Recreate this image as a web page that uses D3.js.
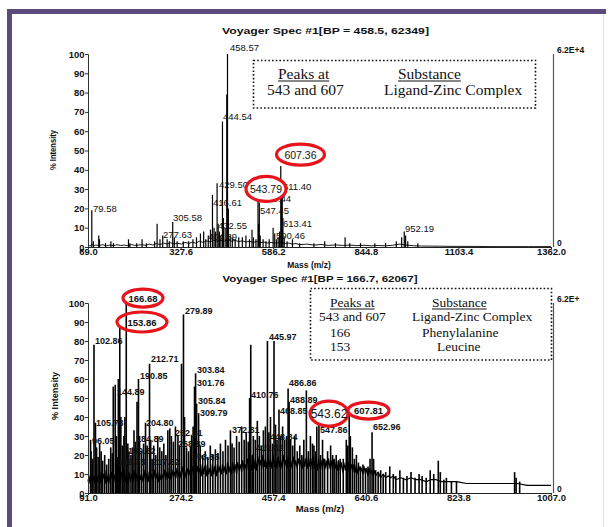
<!DOCTYPE html>
<html><head><meta charset="utf-8">
<script src="https://cdn.jsdelivr.net/npm/d3@7"></script>
<style>body{margin:0;background:#fff;} svg{display:block;}</style>
</head><body>
<script>
// ---------------- DATA ----------------
const topTitle = "Voyager Spec #1[BP = 458.5, 62349]";
const botTitle = "Voyager Spec #1[BP = 166.7, 62067]";
const topXTicks = [69.0, 327.6, 586.2, 844.8, 1103.4, 1362.0];
const botXTicks = [91.0, 274.2, 457.4, 640.6, 823.8, 1007.0];
const yTicks = [0, 10, 20, 30, 40, 50, 60, 70, 80, 90, 100];
const topScaleLabel = "6.2E+4";
const botScaleLabel = "6.2E+";
const xAxisTitle = "Mass (m/z)";
const yAxisTitle = "% Intensity";

// top spectrum: peaks [m/z, % intensity]
const topPeaks = [
[79.58,19],[84,3],[99,6],[101,4],[118,2],[133,3],[140,2],[182,4],[186,2],[205,2],[220,4],[232,2],[255,3],[262,12],[270,4],[277.63,6],[290,4],[296,3],[305.58,13],[310,5],[318,3],[335,3],[350,3],[362,4],[372,5],[383,7],[392,8],[398,4],[404.89,6],[411,9],[416.61,27],[421,10],[425,8],[429.5,33],[432.55,12],[436,8],[440,6],[444.54,65],[447,15],[452,10],[456.5,79],[458.57,100],[461,20],[466,6],[472,5],[480,4],[490,5],[500,5],[510,6],[520,4],[527,9],[531,5],[538,4],[543.79,24],[545.44,12],[547.45,23],[550,6],[558,4],[566,3],[575,4],[586,10],[590.46,7],[595,4],[600,5],[604,8],[607.36,42],[609.5,33],[611.4,28],[613.41,15],[617,5],[625,3],[640,4],[660,2],[700,2],[730,3],[760,2],[787,5],[800,2],[830,2],[870,2],[900,2],[930,3],[945,5],[952.19,8],[956,6],[962,3],[990,2]
];
// top spectrum: baseline trace [m/z, %]
const topNoise = [
[69,1],[75,0.5],[80,1.5],[85,0.5],[90,1],[100,0.8],[110,1.2],[120,0.6],[130,1],[140,0.7],[150,1.2],[160,0.8],[170,1],[180,0.7],[190,1.3],[200,0.8],[210,1],[220,1.2],[230,0.8],[240,1.5],[250,1],[260,1.8],[270,1.2],[280,2],[290,1.5],[300,2.2],[310,1.6],[320,2],[330,1.5],[340,2.4],[350,1.8],[360,2.5],[370,2],[380,3],[390,2.4],[400,3.2],[410,2.6],[420,3.5],[430,3],[440,3.5],[450,3],[460,3.8],[470,3],[480,3.4],[490,2.8],[500,3.2],[510,2.6],[520,3],[530,2.4],[540,2.8],[550,2.2],[560,2.6],[570,2],[580,2.4],[590,2],[600,2.2],[610,2.5],[620,1.8],[630,2],[640,1.5],[650,1.8],[660,1.2],[680,1.5],[700,1],[720,1.3],[740,0.8],[760,1.1],[780,0.8],[800,1],[820,0.7],[840,0.9],[860,0.6],[880,0.8],[900,0.6],[920,0.9],[940,1.5],[960,1],[980,0.6],[1000,0.5],[1050,0.4],[1100,0.3],[1150,0.3],[1200,0.2],[1300,0.2],[1362,0.2]
];
// bottom spectrum: peaks [m/z, % intensity]
const botPeaks = [
[96.05,28],[97,22],[100,18],[102.86,78],[105.78,37],[108,24],[111,19],[114,26],[117,22],[120,17],[124,20],[128,15],[132,18],[136,24],[139,21],[141,56],[144.89,57],[147,30],[149.78,19],[151,60],[153.86,88],[156,40],[159,25],[162,30],[164,40],[166.68,100],[169.82,26],[172,22],[176,20],[179,24],[182,33],[184.89,27],[188,48],[190.85,60],[193,30],[197,22],[201,26],[204.80,37],[208,25],[212.71,68],[215,28],[217.82,18],[221,25],[225,20],[229,30],[233,24],[237,22],[241,26],[245,20],[249,33],[252.81,34],[256,30],[260,27],[264,35],[268.89,30],[272,25],[276,68],[279.89,94],[282,40],[286,24],[290,22],[293.85,25],[296,30],[299,35],[301.76,56],[303.84,63],[305.84,47],[309.79,42],[313,25],[318,20],[323,22],[328,19],[333,25],[338,20],[343,23],[348,21],[353,26],[358,22],[363,28],[368,25],[372.81,33],[376,26],[380,24],[385,30],[390,27],[395,35],[400,28],[404,32],[408,27],[410.76,50],[413,78],[415.82,20],[418,30],[422,28],[426,38],[430,30],[434,25],[438,33],[442,35],[445.97,80],[448.84,32],[452,40],[456,26],[459,80],[462,36],[465,28],[468.85,44],[472,30],[476,35],[480,28],[484,30],[486.86,55],[488.89,48],[492,28],[496,25],[500,30],[505,22],[510,25],[514,20],[518,28],[523,54],[527,22],[531,30],[535,26],[538,25],[541,22],[543.62,35],[547.86,38],[551,20],[555,28],[559,18],[565,22],[571,25],[575,20],[578,18],[582,20],[586,17],[590,18],[596,18],[602,28],[605,25],[607.81,44],[610,30],[614,24],[618,18],[622,20],[626,16],[630,14],[635,15],[640,13],[645,14],[649,18],[652.96,32],[656,18],[660,12],[665,11],[670,12],[675,10],[680,11],[688,14],[695,10],[700,9],[708,12],[715,8],[722,9],[730,11],[738,8],[746,10],[752,9],[760,8],[768,12],[775,10],[784,17],[788,11],[795,7],[800,8],[810,6],[820,6],[935,11],[938,8],[945,6]
];
// bottom spectrum: noisy baseline trace [m/z, %]
const botNoise = [
[91,6],[93,9],[95,5],[98,10],[100,5],[103,9],[105,5],[107,11],[110,6],[112,9],[115,5],[117,11],[119,6],[122,10],[125,5],[127,12],[130,6],[132,10],[135,5],[137,11],[140,6],[142,10],[145,6],[147,12],[150,5],[152,10],[155,5],[157,11],[160,6],[162,13],[165,6],[167,10],[170,5],[172,11],[175,6],[177,10],[180,6],[182,12],[185,6],[187,10],[190,6],[192,11],[195,7],[197,10],[200,6],[202,12],[205,6],[207,10],[210,6],[212,11],[215,6],[217,10],[220,6],[222,12],[225,7],[227,10],[230,6],[232,11],[235,7],[237,10],[240,7],[242,12],[245,7],[247,11],[250,8],[252,13],[255,7],[257,12],[260,8],[262,11],[265,8],[267,13],[270,9],[272,12],[275,8],[277,14],[280,9],[282,12],[285,8],[287,13],[290,9],[292,12],[295,8],[297,14],[300,10],[302,13],[305,9],[307,14],[310,10],[312,13],[315,9],[317,15],[320,10],[322,14],[325,9],[327,15],[330,10],[332,13],[335,9],[337,15],[340,10],[342,14],[345,9],[347,15],[350,11],[352,14],[355,10],[357,15],[360,11],[362,14],[365,10],[367,16],[370,11],[372,14],[375,10],[377,16],[380,11],[382,15],[385,10],[387,16],[390,12],[392,15],[395,11],[397,17],[400,12],[402,15],[405,12],[407,18],[410,13],[412,17],[415,12],[417,20],[420,13],[422,18],[425,12],[427,19],[430,14],[432,17],[435,13],[437,20],[440,14],[442,18],[445,13],[447,19],[450,14],[452,18],[455,13],[457,20],[460,14],[462,18],[465,13],[467,19],[470,14],[472,18],[475,13],[477,20],[480,14],[482,17],[485,13],[487,19],[490,14],[492,17],[495,13],[497,19],[500,14],[502,17],[505,13],[507,18],[510,14],[512,17],[515,13],[517,19],[520,14],[522,18],[525,13],[527,19],[530,14],[532,18],[535,12],[537,19],[540,13],[542,17],[545,12],[547,18],[550,13],[552,17],[555,12],[557,18],[560,13],[562,17],[565,12],[567,18],[570,13],[572,17],[575,12],[577,17],[580,13],[582,16],[585,12],[587,17],[590,12],[592,16],[595,11],[597,16],[600,12],[602,16],[605,11],[607,16],[610,12],[612,15],[615,11],[617,15],[620,11],[622,15],[625,10],[627,14],[630,11],[632,13],[635,10],[637,14],[640,10],[642,13],[645,9],[647,13],[650,10],[652,12],[655,9],[657,12],[660,9],[665,11],[670,8],[675,10],[680,8],[685,9],[690,8],[695,9],[700,7],[710,8],[720,7],[730,8],[740,7],[750,7],[760,6],[770,7],[780,7],[790,6],[800,6],[820,6],[840,5],[860,5],[880,5],[900,5],[920,5],[940,5],[960,4],[980,4],[1000,4],[1007,4]
];

// peak labels: [text, m/z of label's left edge, % at label's middle]
const topLabels = [
["458.57",465.6,103.6],["444.54",446,67.4],["79.58",83,19.7],["305.58",306.4,15.5],["277.63",278.4,6.7],
["429.50",434.8,32.6],["416.61",418.1,22.8],["432.55",432,10.9],["404.89",404.1,5.2],["545.44",554.9,24.9],
["547.45",549.3,18.7],["611.40",613.6,31.1],["613.41",613.6,12.4],["590.46",594,6.2],["952.19",954.3,9.8]
];
// circled labels: [text, m/z of centre, % of centre]
const topCircled = [["543.79",566.1,30.1],["607.36",662.4,47.9]];
const botLabels = [
["102.86",104.8,80],["279.89",282.9,95.8],["212.71",215.6,70.5],["190.85",193.9,61.6],["144.89",148.4,53.2],
["303.84",306.6,64.7],["301.76",306.6,57.9],["305.84",308.6,48.4],["309.79",312.6,42.1],["204.80",205.7,36.8],
["105.78",106.8,36.8],["96.05",98.9,27.4],["184.89",186,28.4],["169.82",170.1,22.1],["149.78",150.4,16.3],
["217.82",217.6,16.3],["252.81",263.1,31.6],["268.89",269,25.8],["293.85",296.8,18.9],["372.81",375.9,33.2],
["415.82",423.4,23.7],["448.84",451.1,29.5],["410.76",413.5,51.6],["445.97",449.1,82.1],["486.86",488.7,57.9],
["488.89",490.6,48.9],["468.85",470.9,43.2],["547.86",550,33.2],["652.96",654.8,34.7]
];
const botCircled = [["166.68",199.8,102.6],["153.86",197.8,90],["543.62",567.8,41.8],["607.81",645.9,43.4]];

const legendTop = [["Peaks at","Substance"],["543 and 607","Ligand-Zinc Complex"]];
const legendBot = [["Peaks at","Substance"],["543 and 607","Ligand-Zinc Complex"],["166","Phenylalanine"],["153","Leucine"]];

// ---------------- DRAWING ----------------
const W = 608, H = 527;
const svg = d3.select("body").append("svg").attr("width", W).attr("height", H);
svg.append("rect").attr("width", W).attr("height", H).attr("fill", "#fff");

// frame
const purple = "#5d4a7d";
svg.append("rect").attr("x", 7).attr("y", 9).attr("width", 599).attr("height", 5).attr("fill", purple);
svg.append("rect").attr("x", 7).attr("y", 9).attr("width", 5).attr("height", H - 9).attr("fill", purple);
svg.append("line").attr("x1", 603.5).attr("x2", 603.5).attr("y1", 14).attr("y2", H).attr("stroke", "#e2e2e2");

const SANS = "'Liberation Sans', Arial, sans-serif";
const SERIF = "'Liberation Serif', 'Times New Roman', serif";

function panel(cfg) {
  const g = svg.append("g");
  const x = d3.scaleLinear().domain([cfg.xTicks[0], cfg.xTicks[cfg.xTicks.length - 1]]).range(cfg.xr);
  const y = d3.scaleLinear().domain([0, 100]).range(cfg.yr);

  // title
  g.append("text").attr("x", cfg.titlePos[0]).attr("y", cfg.titlePos[1]).attr("text-anchor", "middle")
    .attr("font-family", SANS).attr("font-weight", "bold").attr("font-size", cfg.titleSize)
    .attr("textLength", cfg.titleLen).attr("lengthAdjust", "spacingAndGlyphs").attr("fill", "#111").text(cfg.title);

  // noise trace
  const line = d3.line().x(d => x(d[0])).y(d => y(d[1]));
  g.append("path").datum(cfg.noise).attr("d", line).attr("fill", "none").attr("stroke", "#000")
    .attr("stroke-width", cfg.noiseW).attr("stroke-linejoin", "round");
  // peaks
  g.selectAll("line.pk").data(cfg.peaks).join("line").attr("class", "pk")
    .attr("x1", d => x(d[0])).attr("x2", d => x(d[0])).attr("y1", y(0)).attr("y2", d => y(d[1]))
    .attr("stroke", "#000").attr("stroke-width", cfg.peakW);

  // y axis
  const yAx = d3.axisLeft(y).tickValues(yTicks).tickSize(3).tickFormat(d3.format("d"));
  const ya = g.append("g").attr("transform", `translate(${cfg.xr[0]},0)`).call(yAx);
  ya.select(".domain").attr("stroke", "#333");
  ya.selectAll("line").attr("stroke", "#333");
  ya.selectAll("text").attr("font-family", SANS).attr("font-weight", "bold").attr("font-size", cfg.tickSize)
    .attr("fill", "#111").attr("x", -3.5);

  // x axis
  const xAx = d3.axisBottom(x).tickValues(cfg.xTicks).tickSize(2).tickFormat(d3.format(".1f"));
  const xa = g.append("g").attr("transform", `translate(0,${cfg.yr[0]})`).call(xAx);
  xa.select(".domain").attr("stroke", "#222");
  xa.selectAll("line").attr("stroke", "#222");
  xa.selectAll("text").attr("font-family", SANS).attr("font-weight", "bold").attr("font-size", cfg.tickSize)
    .attr("fill", "#111").attr("y", 1.5).attr("dy", "0.71em");

  // right scale line
  g.append("line").attr("x1", cfg.xr[1] + 2.5).attr("x2", cfg.xr[1] + 2.5).attr("y1", y(100)).attr("y2", y(0))
    .attr("stroke", "#555").attr("stroke-width", 1.2);
  g.append("text").attr("x", cfg.xr[1] + 6).attr("y", y(100) - 4).attr("font-family", SANS).attr("font-weight", "bold")
    .attr("font-size", 8.5).attr("fill", "#111").attr("dominant-baseline", "central").text(cfg.scaleLabel);
  g.append("text").attr("x", cfg.xr[1] + 6).attr("y", y(0) - 4).attr("font-family", SANS).attr("font-weight", "bold")
    .attr("font-size", 8.5).attr("fill", "#111").attr("dominant-baseline", "central").text("0");

  // axis titles
  g.append("text").attr("x", cfg.xTitlePos[0]).attr("y", cfg.xTitlePos[1]).attr("text-anchor", "middle")
    .attr("dominant-baseline", "central").attr("font-family", SANS).attr("font-weight", "bold")
    .attr("font-size", cfg.axTitleSize).attr("fill", "#111").text(xAxisTitle);
  g.append("text").attr("transform", `translate(${cfg.yTitlePos[0]},${cfg.yTitlePos[1]}) rotate(-90)`)
    .attr("text-anchor", "middle").attr("dominant-baseline", "central").attr("font-family", SANS)
    .attr("font-weight", "bold").attr("font-size", cfg.axTitleSize).attr("fill", "#111")
    .attr("textLength", cfg.yTitleLen).attr("lengthAdjust", "spacingAndGlyphs").text(yAxisTitle);

  // peak labels
  g.selectAll("text.pl").data(cfg.labels).join("text").attr("class", "pl")
    .attr("x", d => x(d[1])).attr("y", d => y(d[2])).attr("dominant-baseline", "central")
    .attr("font-family", SANS).attr("font-weight", cfg.labelWeight).attr("font-size", cfg.labelSize)
    .attr("fill", "#111").text(d => d[0]);

  // circled labels
  cfg.circled.forEach((d, i) => {
    const c = cfg.circleStyle[i];
    g.append("ellipse").attr("cx", x(d[1])).attr("cy", y(d[2])).attr("rx", c.rx).attr("ry", c.ry)
      .attr("fill", c.fill).attr("stroke", "#e8141b").attr("stroke-width", 3.2);
    g.append("text").attr("x", x(d[1])).attr("y", y(d[2])).attr("text-anchor", "middle")
      .attr("dominant-baseline", "central").attr("font-family", SANS).attr("font-weight", c.weight)
      .attr("font-size", c.size).attr("fill", "#111").text(d[0]);
  });

  // legend box
  const L = cfg.legend;
  g.append("rect").attr("x", L.x).attr("y", L.y).attr("width", L.w).attr("height", L.h)
    .attr("fill", "#fff").attr("stroke", "#111").attr("stroke-width", 1.6).attr("stroke-dasharray", "1.6 2.1");
  cfg.legendRows.forEach((row, i) => {
    row.forEach((t, j) => {
      const tx = g.append("text").attr("x", L.cols[i][j]).attr("y", L.rows[i])
        .attr("font-family", SERIF).attr("font-size", L.size).attr("fill", "#111").text(t);
      if (i === 0) {
        const len = tx.node().getComputedTextLength();
        g.append("line").attr("x1", L.cols[i][j]).attr("x2", L.cols[i][j] + len)
          .attr("y1", L.rows[i] + 2).attr("y2", L.rows[i] + 2).attr("stroke", "#111").attr("stroke-width", 1);
      }
    });
  });
}

panel({
  title: topTitle, titlePos: [325.5, 34], titleSize: 9.5, titleLen: 207,
  xTicks: topXTicks, xr: [88, 551], yr: [247, 54],
  noise: topNoise, peaks: topPeaks, noiseW: 0.9, peakW: 1.2,
  tickSize: 9.5, scaleLabel: topScaleLabel,
  xTitlePos: [309, 265], yTitlePos: [53, 150], axTitleSize: 8.5, yTitleLen: 40,
  labels: topLabels, labelWeight: "normal", labelSize: 9.5,
  circled: topCircled,
  circleStyle: [{rx: 20, ry: 12.5, fill: "#fff", weight: "normal", size: 10.5},
                {rx: 24, ry: 10.5, fill: "#fff", weight: "normal", size: 10.5}],
  legend: {x: 253.5, y: 60.5, w: 282, h: 47.5, size: 15.5, rows: [79, 95],
           cols: [[278, 398], [267, 384]]},
  legendRows: legendTop
});

panel({
  title: botTitle, titlePos: [320, 282], titleSize: 9.5, titleLen: 195,
  xTicks: botXTicks, xr: [88, 551], yr: [493, 303],
  noise: botNoise, peaks: botPeaks, noiseW: 1.2, peakW: 1.6,
  tickSize: 9.5, scaleLabel: botScaleLabel,
  xTitlePos: [320, 508], yTitlePos: [54, 396], axTitleSize: 9.5, yTitleLen: 48,
  labels: botLabels, labelWeight: "bold", labelSize: 9,
  circled: botCircled,
  circleStyle: [{rx: 20, ry: 9, fill: "none", weight: "bold", size: 9.5},
                {rx: 25, ry: 10, fill: "none", weight: "bold", size: 9.5},
                {rx: 19, ry: 12.5, fill: "#fff", weight: "normal", size: 12},
                {rx: 20.5, ry: 8.5, fill: "#fff", weight: "bold", size: 9.5}],
  legend: {x: 310.5, y: 288.5, w: 241, h: 71.5, size: 13.5, rows: [307, 321, 337, 351],
           cols: [[330, 432], [319, 412], [330, 422], [330, 437]]},
  legendRows: legendBot
});
</script>
</body></html>
